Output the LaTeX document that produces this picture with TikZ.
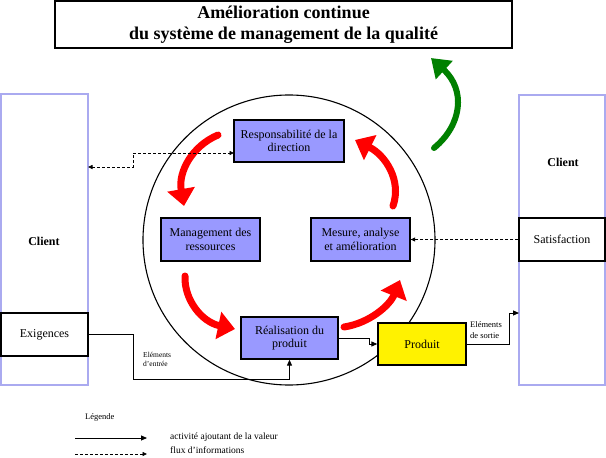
\documentclass[tikz,border=0pt]{standalone}
\usepackage{fontspec}
\setmainfont{Liberation Serif}
\usetikzlibrary{arrows.meta}
\definecolor{boxblue}{RGB}{153,153,255}
\definecolor{clientline}{RGB}{170,170,240}
\definecolor{redarr}{RGB}{255,0,0}
\definecolor{greenarr}{RGB}{0,128,0}
\begin{document}
\begin{tikzpicture}[x=1pt,y=-1pt,
  proc/.style={draw=black, line width=1.3pt, fill=boxblue, align=center,
    font=\fontsize{12}{13.5}\selectfont, inner sep=0pt},
  prodbox/.style={proc, fill=yellow},
  titlebox/.style={draw=black, line width=1.5pt, align=center, inner sep=0pt,
    font=\bfseries\fontsize{18}{21}\selectfont},
  clientbox/.style={draw=clientline, line width=1.2pt, inner sep=0pt},
  plainbox/.style={draw=black, line width=1.3pt, fill=white, inner sep=0pt,
    font=\fontsize{12}{14}\selectfont},
  clientlbl/.style={font=\bfseries\fontsize{12}{14}\selectfont},
  flow/.style={draw=black, line width=1pt, -{Triangle[length=6pt,width=5pt]}},
  info/.style={draw=black, line width=0.8pt, dash pattern=on 3pt off 2pt},
  infotip/.style={-{Triangle[length=4.5pt,width=4pt]}},
  redarrow/.style={draw=redarr, line width=7pt, line cap=round,
    -{Triangle[length=17pt,width=27pt]}},
  greenarrow/.style={draw=greenarr, line width=6pt, line cap=round,
    -{Triangle[length=18pt,width=24pt]}},
  smalllbl/.style={font=\fontsize{7.5}{9.5}\selectfont, align=left, inner sep=0pt},
  legtext/.style={font=\fontsize{9.5}{11}\selectfont, anchor=west, inner sep=0pt}
]
\useasboundingbox (0,0) rectangle (606,458);
\fill[white] (0,0) rectangle (606,458);

% title
\node[titlebox, minimum width=457pt, minimum height=47pt] (title) at (283.5,24.5)
  {Amélioration continue\\du système de management de la qualité};

% client boxes
\node[clientbox, minimum width=87pt, minimum height=291pt] (lclient) at (44.5,239.5) {};
\node[clientlbl] (lclientlbl) at (44,241) {Client};
\node[clientbox, minimum width=86pt, minimum height=290pt] (rclient) at (562,240) {};
\node[clientlbl] (rclientlbl) at (563,162) {Client};
\node[plainbox, minimum width=87pt, minimum height=43pt] (exig) at (44.5,334.5) {Exigences};
\node[plainbox, minimum width=86pt, minimum height=43pt] (satis) at (562,239.5) {Satisfaction};

% circle
\draw[line width=1.1pt] (289,240) ellipse [x radius=146pt, y radius=145pt];

% process boxes
\node[proc, minimum width=110pt, minimum height=42pt] (resp) at (289,141)
  {Responsabilité de la\\direction};
\node[proc, minimum width=99pt, minimum height=43pt] (mgmt) at (210.5,239.5)
  {Management des\\ressources};
\node[proc, minimum width=99pt, minimum height=43pt] (mesure) at (360.5,239.5)
  {Mesure, analyse\\et amélioration};
\node[proc, minimum width=97pt, minimum height=42pt] (real) at (289.5,338)
  {Réalisation du\\produit};
\node[prodbox, minimum width=88pt, minimum height=42pt] (prod) at (422,344) {Produit};

% red cycle arrows
\draw[redarrow] (218,135) .. controls (192,146) and (178,172) .. (184,206);
\draw[redarrow] (185,276) .. controls (184,300) and (202,322) .. (235,329);
\draw[redarrow] (344,327) .. controls (370,323) and (390,305) .. (400,280);
\draw[redarrow] (393,206) .. controls (402,180) and (385,155) .. (355,140);

% green arrow
\draw[greenarrow] (434,148) .. controls (462,125) and (466,90) .. (431,58);

% flows
\draw[flow] (exig.east) -| (133,379) -| (real.south);
\draw[flow] (real.east) -- (369,338) |- (prod.west);
\coordinate (cout) at (519,313);
\draw[flow] (prod.east) -| (509,313) -- (cout);

% information flows
\coordinate (lin) at (88,167);
\coordinate (rin) at (234,153);
\draw[info, {Triangle[length=4.5pt,width=4pt]}-{Triangle[length=4.5pt,width=4pt]}]
  (lin) -- (133,167) -- (133,153) -- (rin);
\draw[info, infotip] (satis.west) -- (mesure.east);

% labels
\node[smalllbl, anchor=north west] (inlbl) at (143,352) {Eléments\\d'entrée};
\node[smalllbl, anchor=north west, font=\fontsize{8.5}{11}\selectfont] (outlbl) at (470,321) {Eléments\\de sortie};

% legend
\node[legtext, font=\fontsize{8.5}{10}\selectfont] (leg) at (85,417) {Légende};
\coordinate (l1a) at (75,438);
\coordinate (l1b) at (147,438);
\coordinate (l2a) at (75,454);
\coordinate (l2b) at (147,454);
\draw[flow, line width=0.8pt] (l1a) -- (l1b);
\draw[info, infotip] (l2a) -- (l2b);
\node[legtext] (leg1) at (170,437) {activité ajoutant de la valeur};
\node[legtext] (leg2) at (170,450) {flux d'informations};
\end{tikzpicture}
\end{document}
